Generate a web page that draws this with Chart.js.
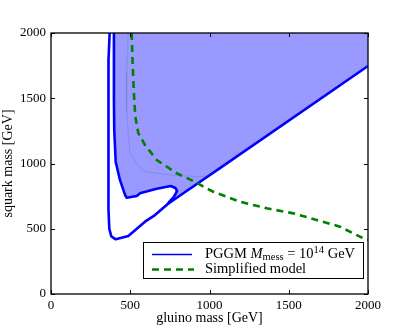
<!DOCTYPE html>
<html>
<head>
<meta charset="utf-8">
<script src="https://cdn.jsdelivr.net/npm/chart.js@4.4.1/dist/chart.umd.min.js"></script>
<style>
  html, body { margin: 0; padding: 0; background: #fff; }
  #wrap { width: 409px; height: 327px; }
</style>
</head>
<body>
<div id="wrap"><canvas id="chart"></canvas></div>
<script>
// tick values
const xTicks = [0, 500, 1000, 1500, 2000];
const yTicks = [0, 500, 1000, 1500, 2000];

// PGGM contour, outer branch (gluino, squark) in GeV
const outerGluino = [370, 363, 362, 362, 362, 364, 368, 380, 408, 488, 593, 656, 735, 835, 1066, 2000];
const outerSquark = [2000, 1800, 1500, 1200, 1000, 650, 500, 443, 419, 444, 554, 605, 688, 772, 965, 1747];

// PGGM contour, inner branch
const innerGluino = [397, 397, 399, 408, 435, 467, 478, 541, 562, 660, 755, 785, 795, 785, 775, 750, 735];
const innerSquark = [2000, 1500, 1257, 1014, 874, 759, 738, 751, 772, 805, 828, 812, 790, 765, 745, 712, 688];

// upper edge of the allowed band, closes the shaded region
const edgeGluino = [835, 1066, 2000, 2000, 397];
const edgeSquark = [772, 965, 1747, 2000, 2000];

// faint contour inside the shaded region
const faintGluino = [486, 484, 477, 477, 486, 498, 549, 593, 751, 921, 994];
const faintSquark = [2000, 1850, 1700, 1400, 1257, 1080, 988, 937, 912, 899, 905];

// simplified model
const simpGluino = [509, 515, 524, 532, 551, 593, 667, 793, 919, 980, 1024, 1192, 1361, 1529, 1676, 1823, 1970, 2000];
const simpSquark = [2000, 1770, 1512, 1359, 1233, 1142, 1027, 925, 853, 810, 784, 707, 657, 618, 567, 516, 427, 414];

const legendLabels = ['PGGM', 'Simplified model'];

function pts(xs, ys) {
    return xs.map((x, i) => ({ x: x, y: ys[i] }));
}

const serif = "'Liberation Serif', 'DejaVu Serif', serif";

const frameAndTicks = {
    id: 'frameAndTicks',
    afterDraw(chart) {
        const ctx = chart.ctx;
        const a = chart.chartArea;
        const xs = chart.scales.x, ys = chart.scales.y;
        ctx.save();
        ctx.strokeStyle = '#000';
        ctx.lineWidth = 1.3;
        ctx.strokeRect(a.left, a.top, a.right - a.left, a.bottom - a.top);
        ctx.lineWidth = 1;
        ctx.beginPath();
        xTicks.forEach(v => {
            const px = Math.round(xs.getPixelForValue(v)) + 0.5;
            ctx.moveTo(px, a.bottom); ctx.lineTo(px, a.bottom - 4);
            ctx.moveTo(px, a.top); ctx.lineTo(px, a.top + 4);
        });
        yTicks.forEach(v => {
            const py = Math.round(ys.getPixelForValue(v)) + 0.5;
            ctx.moveTo(a.left, py); ctx.lineTo(a.left + 4, py);
            ctx.moveTo(a.right, py); ctx.lineTo(a.right - 4, py);
        });
        ctx.stroke();

        // legend
        const bx = 143.5, by = 242.5, bw = 220, bh = 36;
        ctx.fillStyle = '#fff';
        ctx.fillRect(bx, by, bw, bh);
        ctx.strokeStyle = '#000';
        ctx.lineWidth = 1;
        ctx.strokeRect(bx, by, bw, bh);

        const r1 = 254.5, r2 = 269.5;
        ctx.strokeStyle = '#0000ff';
        ctx.lineWidth = 1.5;
        ctx.beginPath(); ctx.moveTo(152, r1); ctx.lineTo(192, r1); ctx.stroke();
        ctx.strokeStyle = '#008000';
        ctx.lineWidth = 2.5;
        ctx.setLineDash([7, 5]);
        ctx.beginPath(); ctx.moveTo(152, r2); ctx.lineTo(194, r2); ctx.stroke();
        ctx.setLineDash([]);

        ctx.fillStyle = '#000';
        ctx.textBaseline = 'middle';
        ctx.textAlign = 'left';
        let x = 205;
        const put = (t, font, dy) => {
            ctx.font = font;
            ctx.fillText(t, x, r1 + dy);
            x += ctx.measureText(t).width;
        };
        put(legendLabels[0] + ' ', '14.5px ' + serif, 0);
        put('M', 'italic 14.5px ' + serif, 0);
        put('mess', '10.5px ' + serif, 3);
        put(' = 10', '14.5px ' + serif, 0);
        put('14', '10.5px ' + serif, -4);
        put(' GeV', '14.5px ' + serif, 0);
        ctx.font = '14.5px ' + serif;
        ctx.fillText(legendLabels[1], 205, r2);
        ctx.restore();
    }
};

const data = {
    datasets: [
        {
            data: pts(innerGluino.concat(edgeGluino), innerSquark.concat(edgeSquark)),
            showLine: true,
            borderWidth: 0,
            borderColor: 'rgba(0,0,0,0)',
            backgroundColor: 'rgba(0,0,255,0.4)',
            fill: 'shape',
            pointRadius: 0,
            order: 5
        },
        {
            data: pts(faintGluino, faintSquark),
            showLine: true,
            borderWidth: 0.8,
            borderColor: 'rgba(120,120,210,0.6)',
            pointRadius: 0,
            order: 4
        },
        {
            data: pts(outerGluino, outerSquark),
            showLine: true,
            borderWidth: 2.6,
            borderColor: '#0000ff',
            borderJoinStyle: 'round',
            pointRadius: 0,
            order: 2
        },
        {
            data: pts(innerGluino, innerSquark),
            showLine: true,
            borderWidth: 2.6,
            borderColor: '#0000ff',
            borderJoinStyle: 'round',
            pointRadius: 0,
            order: 3
        },
        {
            data: pts(simpGluino, simpSquark),
            showLine: true,
            borderWidth: 2.6,
            borderColor: '#008000',
            borderDash: [7, 5],
            pointRadius: 0,
            order: 1
        }
    ]
};

const config = {
    type: 'scatter',
    data,
    options: {
        responsive: false,
        animation: false,
        layout: { padding: { left: 0, top: 33, right: 41, bottom: 0 } },
        elements: { line: { tension: 0 } },
        plugins: {
            legend: { display: false },
            tooltip: { enabled: false }
        },
        scales: {
            x: {
                type: 'linear', min: 0, max: 2000,
                afterFit(s) { s.height = 33; },
                afterBuildTicks(s) { s.ticks = xTicks.map(v => ({ value: v })); },
                grid: { display: false, drawTicks: false },
                border: { display: false },
                ticks: { padding: 4, color: '#000', font: { family: serif, size: 13 }, callback: v => String(v) },
                title: { display: true, text: 'gluino mass [GeV]', color: '#000', font: { family: serif, size: 14 }, padding: { top: 0, bottom: 0 } }
            },
            y: {
                type: 'linear', min: 0, max: 2000,
                afterFit(s) { s.width = 51; },
                afterBuildTicks(s) { s.ticks = yTicks.map(v => ({ value: v })); },
                grid: { display: false, drawTicks: false },
                border: { display: false },
                ticks: { padding: 5, color: '#000', font: { family: serif, size: 13 }, callback: v => String(v) },
                title: { display: true, text: 'squark mass [GeV]', color: '#000', font: { family: serif, size: 14 }, padding: { top: 0, bottom: 0 } }
            }
        }
    },
    plugins: [frameAndTicks]
};

const canvas = document.getElementById('chart');
canvas.width = 409;
canvas.height = 327;
new Chart(canvas.getContext('2d'), config);
</script>
</body>
</html>
